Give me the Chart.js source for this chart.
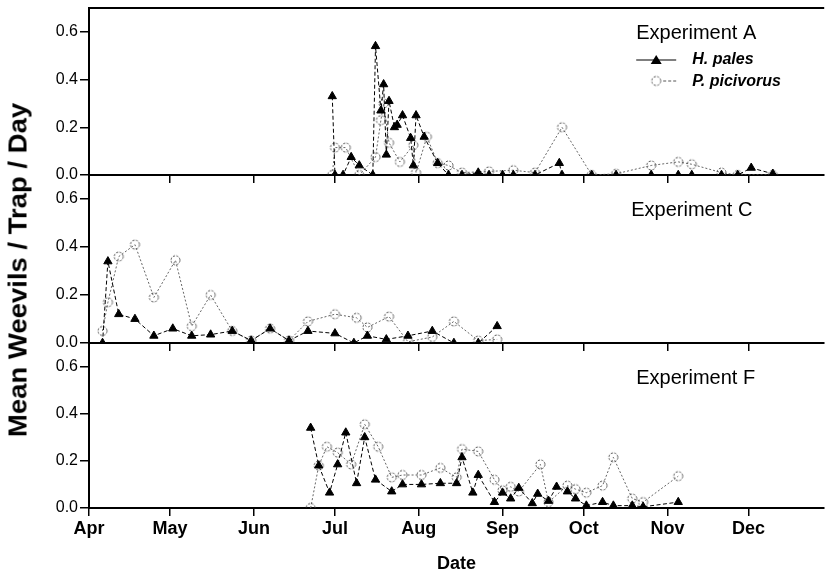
<!DOCTYPE html>
<html>
<head>
<meta charset="utf-8">
<script src="https://cdn.jsdelivr.net/npm/chart.js@4.4.1/dist/chart.umd.min.js"></script>
<style>
  html, body { margin: 0; padding: 0; background: #fff; overflow: hidden; }
  #wrap { position: relative; width: 825px; height: 582px; overflow: hidden; }
  #wrap canvas { position: absolute; left: 0; top: 0; }
  #ytitle {
    position: absolute; left: 18px; top: 270px;
    transform: translate(-50%, -50%) rotate(-90deg) scale(1.1, 1);
    font: bold 25px 'Liberation Sans', Arial, sans-serif;
    white-space: nowrap; color: #000;
  }
</style>
</head>
<body>
<div id="wrap">
  <canvas id="cA" width="830" height="582"></canvas>
  <canvas id="cC" width="830" height="582"></canvas>
  <canvas id="cF" width="830" height="582"></canvas>
  <div id="ytitle">Mean Weevils / Trap / Day</div>
</div>
<script>
// Month axis labels (ticks at the first day of each month)
const monthLabels = ['Apr', 'May', 'Jun', 'Jul', 'Aug', 'Sep', 'Oct', 'Nov', 'Dec'];
const yTickValues = [0, 0.2, 0.4, 0.6];

// Mean weevils per trap per day, sampled by date (month/day)
const hPalesA = [
  ['6/30', 0.33], ['7/1', 0], ['7/4', 0], ['7/7', 0.075], ['7/10', 0.04], ['7/15', 0],
  ['7/16', 0.54], ['7/18', 0.27], ['7/19', 0.38], ['7/20', 0.085], ['7/21', 0.31],
  ['7/23', 0.20], ['7/24', 0.21], ['7/26', 0.25], ['7/29', 0.155], ['7/30', 0.04],
  ['7/31', 0.25], ['8/3', 0.16], ['8/8', 0.05], ['8/12', 0], ['8/17', 0], ['8/23', 0.01],
  ['8/27', 0], ['9/1', 0], ['9/5', 0], ['9/13', 0], ['9/22', 0.05], ['9/23', 0],
  ['10/4', 0], ['10/13', 0], ['10/26', 0], ['11/5', 0], ['11/10', 0], ['11/21', 0],
  ['11/27', 0], ['12/2', 0.03], ['12/10', 0.005]
];
const picivorusA = [
  ['6/30', 0], ['7/1', 0.115], ['7/5', 0.115], ['7/10', 0], ['7/16', 0.075], ['7/18', 0.23],
  ['7/19', 0.30], ['7/21', 0.135], ['7/25', 0.055], ['7/30', 0.125], ['7/31', 0.01],
  ['8/4', 0.16], ['8/8', 0.05], ['8/12', 0.04], ['8/17', 0.01], ['8/27', 0.015],
  ['9/5', 0.02], ['9/13', 0.01], ['9/23', 0.20], ['10/4', 0], ['10/13', 0.005],
  ['10/26', 0.04], ['11/5', 0.055], ['11/10', 0.045], ['11/21', 0.01], ['11/27', 0],
  ['12/10', 0]
];
const hPalesC = [
  ['4/6', 0], ['4/8', 0.34], ['4/12', 0.12], ['4/18', 0.10], ['4/25', 0.03], ['5/2', 0.06],
  ['5/9', 0.03], ['5/16', 0.035], ['5/24', 0.05], ['5/31', 0.01], ['6/7', 0.06],
  ['6/14', 0.01], ['6/21', 0.05], ['7/1', 0.04], ['7/8', 0], ['7/13', 0.03],
  ['7/20', 0.015], ['7/28', 0.03], ['8/6', 0.05], ['8/14', 0], ['8/23', 0], ['8/30', 0.07]
];
const picivorusC = [
  ['4/6', 0.05], ['4/8', 0.17], ['4/12', 0.36], ['4/18', 0.41], ['4/25', 0.19],
  ['5/3', 0.345], ['5/9', 0.07], ['5/16', 0.20], ['5/24', 0.05], ['5/31', 0.01],
  ['6/7', 0.06], ['6/14', 0.01], ['6/21', 0.09], ['7/1', 0.12], ['7/9', 0.105],
  ['7/13', 0.065], ['7/21', 0.11], ['7/28', 0.005], ['8/6', 0.025], ['8/14', 0.09],
  ['8/23', 0.01], ['8/30', 0.015]
];
const hPalesF = [
  ['6/22', 0.34], ['6/25', 0.18], ['6/29', 0.065], ['7/2', 0.185], ['7/5', 0.32],
  ['7/9', 0.105], ['7/12', 0.30], ['7/16', 0.12], ['7/22', 0.07], ['7/26', 0.10],
  ['8/2', 0.10], ['8/9', 0.105], ['8/15', 0.105], ['8/17', 0.215], ['8/21', 0.065],
  ['8/23', 0.14], ['8/29', 0.025], ['9/1', 0.065], ['9/4', 0.04], ['9/7', 0.085],
  ['9/12', 0.02], ['9/14', 0.06], ['9/18', 0.03], ['9/21', 0.09], ['9/25', 0.07],
  ['9/28', 0.04], ['10/2', 0.01], ['10/8', 0.025], ['10/12', 0.01], ['10/19', 0.01],
  ['10/23', 0.005], ['11/5', 0.025]
];
const picivorusF = [
  ['6/22', 0], ['6/25', 0.18], ['6/28', 0.26], ['7/2', 0.235], ['7/7', 0.185],
  ['7/12', 0.355], ['7/17', 0.26], ['7/22', 0.13], ['7/26', 0.14], ['8/2', 0.14],
  ['8/9', 0.17], ['8/15', 0.13], ['8/17', 0.25], ['8/23', 0.24], ['8/29', 0.12],
  ['9/1', 0.075], ['9/4', 0.09], ['9/7', 0.07], ['9/15', 0.185], ['9/18', 0.025],
  ['9/25', 0.095], ['9/28', 0.08], ['10/2', 0.065], ['10/8', 0.095], ['10/12', 0.215],
  ['10/19', 0.04], ['10/23', 0.025], ['11/5', 0.135]
];

// Days elapsed since April 1 at the start of each month
const monthStart = { 4: 0, 5: 30, 6: 61, 7: 91, 8: 122, 9: 153, 10: 183, 11: 214, 12: 244 };
const monthTickDays = [4, 5, 6, 7, 8, 9, 10, 11, 12].map(m => monthStart[m]);
function dayOf(md) {
  const [m, d] = md.split('/').map(Number);
  return monthStart[m] + d - 1;
}
const toPoints = series => series.map(([md, v]) => ({ x: dayOf(md), y: v }));

const FONT = "'Liberation Sans', Arial, sans-serif";
const H = 582;

// Open circle marker with a broken grey outline
function makeCircleMarker(r) {
  const size = Math.ceil(r * 2 + 4);
  const c = document.createElement('canvas');
  c.width = size; c.height = size;
  const g = c.getContext('2d');
  g.strokeStyle = '#555';
  g.lineWidth = 1;
  g.setLineDash([2.2, 1.4]);
  g.beginPath();
  g.arc(size / 2, size / 2, r, 0, Math.PI * 2);
  g.stroke();
  return c;
}
const circleMarker = makeCircleMarker(4.5);

function datasets(hp, pp) {
  return [
    {
      label: 'H. pales', data: toPoints(hp),
      borderColor: '#000', borderWidth: 1, borderDash: [4, 2.5],
      pointStyle: 'triangle', pointRadius: 4.8, pointBackgroundColor: '#000',
      pointBorderColor: '#000', pointBorderWidth: 1, tension: 0, order: 0
    },
    {
      label: 'P. picivorus', data: toPoints(pp),
      borderColor: '#666', borderWidth: 1, borderDash: [2, 2],
      pointStyle: circleMarker, pointRadius: 4.5, tension: 0, order: 1
    }
  ];
}

// Panel caption, legend and frame drawn on top of each panel
function panelDecor(title, titleDx, titleDy, withLegend) {
  return {
    id: 'panelDecor',
    afterDraw(chart) {
      const { ctx, chartArea: a } = chart;
      ctx.save();
      ctx.fillStyle = '#000';
      ctx.textBaseline = 'middle';
      ctx.textAlign = 'left';
      ctx.font = '20px ' + FONT;
      ctx.fillText(title, a.right - titleDx, a.top + titleDy);
      if (withLegend) {
        // top frame line
        ctx.strokeStyle = '#000';
        ctx.lineWidth = 2;
        ctx.beginPath();
        ctx.moveTo(a.left - 1, a.top);
        ctx.lineTo(a.right, a.top);
        ctx.stroke();
        const lx = a.right - 188, y1 = a.top + 52, y2 = a.top + 73;
        ctx.lineWidth = 1.2;
        ctx.beginPath();
        ctx.moveTo(lx, y1); ctx.lineTo(lx + 40, y1);
        ctx.stroke();
        ctx.beginPath();
        ctx.moveTo(lx + 20, y1 - 5); ctx.lineTo(lx + 25.5, y1 + 4); ctx.lineTo(lx + 14.5, y1 + 4);
        ctx.closePath(); ctx.fill();
        ctx.drawImage(circleMarker, lx + 20 - circleMarker.width / 2, y2 - circleMarker.height / 2);
        ctx.strokeStyle = '#555';
        ctx.lineWidth = 1;
        ctx.setLineDash([3, 2]);
        ctx.beginPath();
        ctx.moveTo(lx + 27, y2); ctx.lineTo(lx + 40, y2);
        ctx.stroke();
        ctx.setLineDash([]);
        ctx.font = 'italic bold 16px ' + FONT;
        ctx.fillText('H. pales', lx + 56, y1);
        ctx.fillText('P. picivorus', lx + 56, y2 + 1);
      }
      ctx.restore();
    }
  };
}

function makePanel(canvasId, hp, pp, title, titleDx, titleDy, top, bottom, isLast, withLegend) {
  const xHeight = isLast ? H - bottom : 9;
  return new Chart(document.getElementById(canvasId), {
    type: 'line',
    data: { datasets: datasets(hp, pp) },
    options: {
      responsive: false, animation: false, events: [],
      layout: { padding: { top: top, bottom: isLast ? 0 : H - bottom - xHeight, left: 0, right: 0 } },
      plugins: { legend: { display: false }, tooltip: { enabled: false } },
      scales: {
        x: {
          type: 'linear', min: 0, max: 272,
          afterBuildTicks: s => { s.ticks = monthTickDays.map(v => ({ value: v })); },
          afterFit: s => { s.height = xHeight; s.paddingLeft = 0; s.paddingRight = 0; },
          grid: { drawOnChartArea: false, drawTicks: true, tickLength: 8, color: '#000', lineWidth: 1.5 },
          border: { display: true, color: '#000', width: 2 },
          ticks: {
            display: isLast, autoSkip: false, maxRotation: 0, padding: 2, color: '#000',
            font: { family: FONT, size: 18, weight: 'bold' },
            callback: (v, i) => monthLabels[i]
          },
          title: {
            display: isLast, text: 'Date', color: '#000',
            font: { family: FONT, size: 18, weight: 'bold' }, padding: { top: 0, bottom: 7 }
          }
        },
        y: {
          min: 0, max: 0.7,
          afterBuildTicks: s => { s.ticks = yTickValues.map(v => ({ value: v })); },
          afterFit: s => { s.width = 89; s.paddingTop = 0; s.paddingBottom = 0; },
          grid: { drawOnChartArea: false, drawTicks: true, tickLength: 9, color: '#000', lineWidth: 1.5 },
          border: { display: true, color: '#000', width: 2 },
          ticks: {
            padding: 2, color: '#000', font: { family: FONT, size: 16 },
            callback: v => v.toFixed(1)
          }
        }
      }
    },
    plugins: [panelDecor(title, titleDx, titleDy, withLegend)]
  });
}

makePanel('cA', hPalesA, picivorusA, 'Experiment A', 188, 25, 8, 175, false, true);
makePanel('cC', hPalesC, picivorusC, 'Experiment C', 193, 35, 175, 343, false, false);
makePanel('cF', hPalesF, picivorusF, 'Experiment F', 188, 35, 343, 508, true, false);
</script>
</body>
</html>
